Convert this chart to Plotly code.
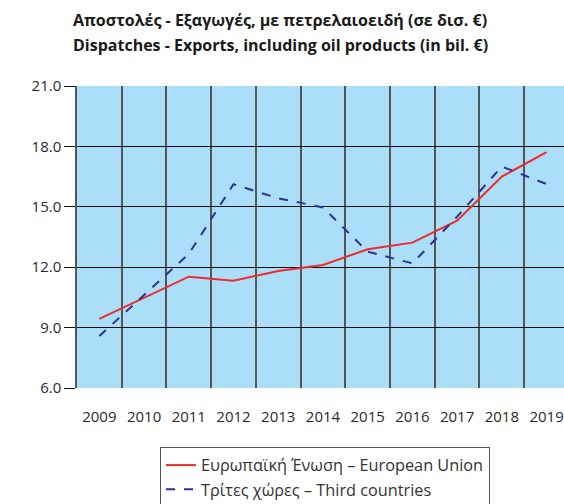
import plotly.graph_objects as go

years = ["2009", "2010", "2011", "2012", "2013", "2014", "2015", "2016", "2017", "2018", "2019"]
eu = [9.43, 10.48, 11.53, 11.33, 11.81, 12.11, 12.89, 13.22, 14.31, 16.50, 17.71]
third = [8.58, 10.62, 12.66, 16.12, 15.42, 14.97, 12.77, 12.19, 14.51, 17.00, 16.13]
y_ticks = [6.0, 9.0, 12.0, 15.0, 18.0, 21.0]
title_lines = [
    "Αποστολές - Εξαγωγές, με πετρελαιοειδή (σε δισ. €)",
    "Dispatches - Exports, including oil products (in bil. €)",
]

font_main = "Open Sans, Noto Sans, sans-serif"

fig = go.Figure()
fig.add_trace(go.Scatter(
    x=years, y=eu, mode="lines",
    name="Ευρωπαϊκή Ένωση – European Union",
    line=dict(color="#ee2a2a", width=2),
))
fig.add_trace(go.Scatter(
    x=years, y=third, mode="lines",
    name="Τρίτες χώρες – Third countries",
    line=dict(color="#2e3192", width=2, dash="dash"),
))

# two-line bold heading, placed line by line
for i, line in enumerate(title_lines):
    fig.add_annotation(
        text=f"<b>{line}</b>",
        xref="paper", yref="paper",
        x=(280 - 77) / 487, y=1 + (86 - (20 + 25 * i)) / 302,
        xanchor="center", yanchor="middle",
        showarrow=False,
        font=dict(family=font_main, size=16, color="#1a1a1a"),
    )

fig.update_layout(
    width=564, height=504,
    margin=dict(l=77, r=0, t=86, b=116, autoexpand=False),
    paper_bgcolor="white",
    plot_bgcolor="#abdff9",
    showlegend=True,
    legend=dict(
        x=(160 - 77) / 487, y=-(447 - 388) / 302, xanchor="left", yanchor="top",
        bordercolor="#555555", borderwidth=1, bgcolor="white",
        font=dict(family=font_main, size=16.3, color="#333333"),
        tracegroupgap=0, itemwidth=30,
    ),
)

fig.update_xaxes(
    type="category",
    range=[-0.5, 10.39],
    tickson="boundaries",
    showgrid=True, gridcolor="#555555", gridwidth=1.5,
    ticks="", ticklen=0,
    ticklabelstandoff=18,
    automargin=False,
    tickfont=dict(family=font_main, size=15, color="#2a2a2a"),
    showline=False, zeroline=False,
)
fig.update_yaxes(
    range=[6, 21],
    tickvals=y_ticks,
    ticktext=[f"{v:.1f}" for v in y_ticks],
    showgrid=True, gridcolor="#111111", gridwidth=1,
    ticks="outside", ticklen=11, tickcolor="#111111", tickwidth=1,
    automargin=False,
    tickfont=dict(family=font_main, size=15, color="#2a2a2a"),
    showline=True, linecolor="#555555", linewidth=1.5,
    zeroline=False,
)

fig.write_html("out.html")
